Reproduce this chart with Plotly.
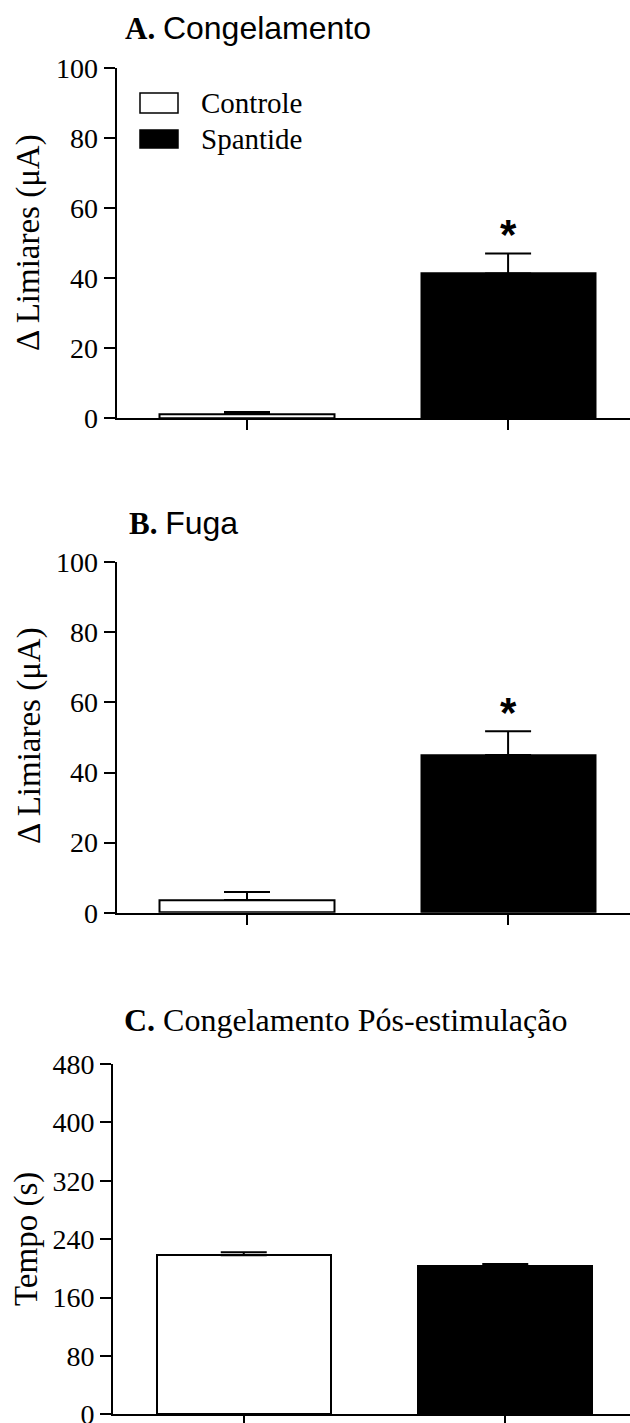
import plotly.graph_objects as go

# ---------------- data ----------------
groups = ["Controle", "Spantide"]
bar_colors = ["white", "black"]

congelamento_mean = [1.2, 41.4]
congelamento_sem = [0.6, 5.7]

fuga_mean = [3.6, 45.0]
fuga_sem = [2.3, 6.8]

pos_mean = [217.8, 203.2]
pos_sem = [4.4, 2.7]

delta_ticks = [0, 20, 40, 60, 80, 100]
tempo_ticks = [0, 80, 160, 240, 320, 400, 480]

signif_A = [False, True]
signif_B = [False, True]

# ---------------- figure ----------------
W, H = 630, 1423
SERIF = "Liberation Serif"
SANS = "Liberation Sans"

fig = go.Figure()

panels = [
    ("x", "y", congelamento_mean, congelamento_sem, signif_A),
    ("x2", "y2", fuga_mean, fuga_sem, signif_B),
    ("x3", "y3", pos_mean, pos_sem, [False, False]),
]

for xa, ya, means, sems, sig in panels:
    for i, g in enumerate(groups):
        fig.add_trace(go.Bar(
            x=[i], y=[means[i]], width=0.667,
            xaxis=xa, yaxis=ya, name=g, showlegend=False,
            marker=dict(color=bar_colors[i], line=dict(color="black", width=2)),
            error_y=dict(type="data", array=[sems[i]], arrayminus=[0], symmetric=False,
                         color="black", thickness=2, width=23),
        ))
        if sig[i]:
            fig.add_annotation(x=i, y=means[i] + sems[i], xref=xa, yref=ya,
                               text="<b>*</b>", showarrow=False,
                               font=dict(family=SANS, size=42, color="black"),
                               yanchor="middle", yshift=19)


def px_y(p):
    return 1 - p / H


def xaxis(domain, rng, anchor):
    return dict(domain=domain, range=rng, tickvals=[0, 1], ticktext=["", ""],
                ticks="outside", ticklen=10, tickwidth=2, tickcolor="black",
                showline=True, linewidth=2, linecolor="black", anchor=anchor,
                showgrid=False, zeroline=False, fixedrange=True, automargin=False)


def yaxis(domain, rng, ticks, anchor):
    return dict(domain=domain, range=rng, tickvals=ticks,
                ticks="outside", ticklen=11, tickwidth=2, tickcolor="black",
                showline=True, linewidth=2, linecolor="black",
                showgrid=False, zeroline=False, anchor=anchor, automargin=False,
                ticklabeloverflow="allow",
                tickfont=dict(family=SERIF, size=28, color="black"))


fig.update_layout(
    width=W, height=H, margin=dict(l=0, r=0, t=0, b=0, pad=0, autoexpand=False),
    autosize=False,
    paper_bgcolor="white", plot_bgcolor="white",
    showlegend=False, bargap=0,
    xaxis=xaxis([116.5 / W, 1], [-0.5, 1.467], "y"),
    yaxis=yaxis([px_y(418.3), px_y(68.3)], [0, 100], delta_ticks, "x"),
    xaxis2=xaxis([116.5 / W, 1], [-0.5, 1.467], "y2"),
    yaxis2=yaxis([px_y(912.7), px_y(562.3)], [0, 100], delta_ticks, "x2"),
    xaxis3=xaxis([113 / W, 1], [-0.5, 1.477], "y3"),
    yaxis3=yaxis([px_y(1414.3), px_y(1064)], [0, 480], tempo_ticks, "x3"),
)

# panel titles
titles = [
    ("<b>A.</b> <span style='font-family:Liberation Sans;font-size:32px'>Congelamento</span>", 123, 28, 31),
    ("<b>B.</b> <span style='font-family:Liberation Sans;font-size:32px'>Fuga</span>", 127, 523, 31),
    ("<b>C.</b> Congelamento Pós-estimulação", 122, 1020, 32),
]
for txt, xp, yp, fs in titles:
    fig.add_annotation(x=xp / W, y=px_y(yp), xref="paper", yref="paper",
                       text=txt, showarrow=False, xanchor="left", yanchor="middle",
                       font=dict(family=SERIF, size=fs, color="black"))

# y-axis titles
ytitles = [("Δ Limiares (μA)", 28, 243), ("Δ Limiares (μA)", 29, 736), ("Tempo (s)", 26, 1239)]
for txt, xp, yp in ytitles:
    fig.add_annotation(x=xp / W, y=px_y(yp), xref="paper", yref="paper",
                       text=txt, showarrow=False, textangle=-90,
                       xanchor="center", yanchor="middle",
                       font=dict(family=SERIF, size=33, color="black"))

# legend (panel A)
legend_rows = [(groups[0], bar_colors[0], 93, 113), (groups[1], bar_colors[1], 130, 148)]
for name, col, y0, y1 in legend_rows:
    fig.add_shape(type="rect", xref="paper", yref="paper",
                  x0=140 / W, x1=178 / W, y0=px_y(y1), y1=px_y(y0),
                  fillcolor=col, line=dict(color="black", width=1.5))
    fig.add_annotation(x=199 / W, y=px_y((y0 + y1) / 2), xref="paper", yref="paper",
                       text=name, showarrow=False, xanchor="left", yanchor="middle",
                       font=dict(family=SERIF, size=29, color="black"))

fig.write_html("out.html")
